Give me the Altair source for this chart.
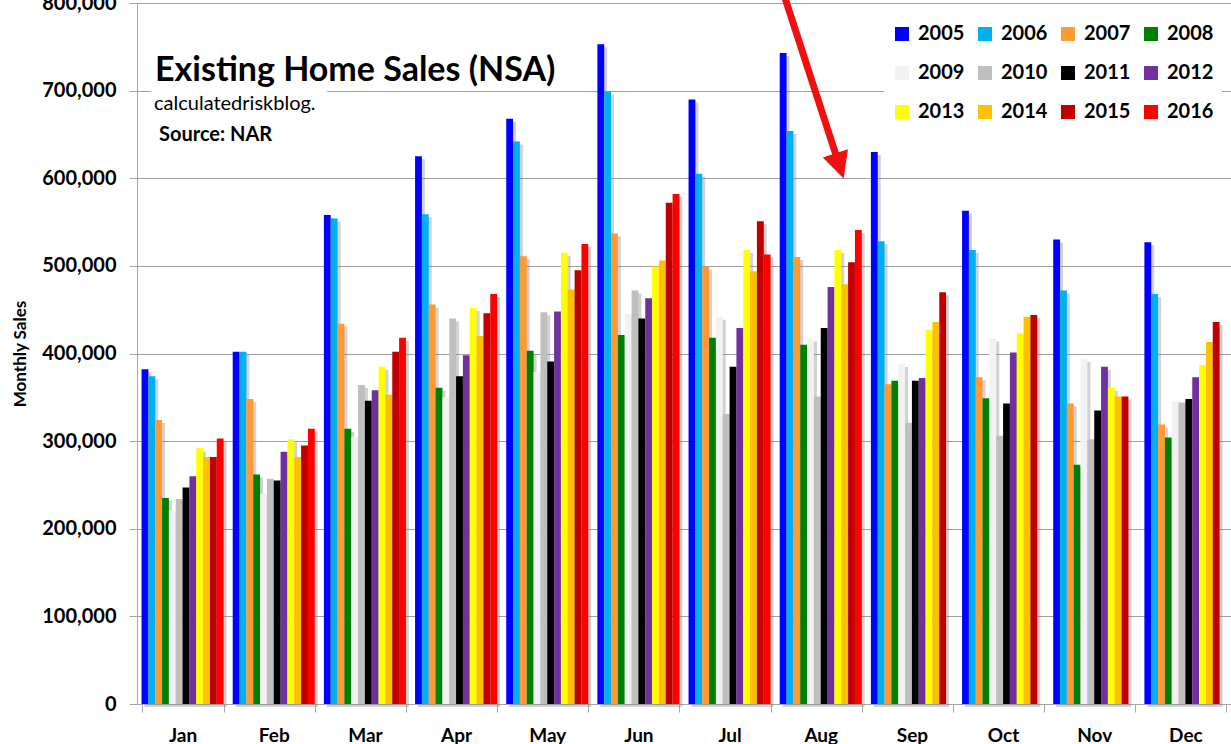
import altair as alt
import pandas as pd

months = ["Jan", "Feb", "Mar", "Apr", "May", "Jun", "Jul", "Aug", "Sep", "Oct", "Nov", "Dec"]
years = ["2005", "2006", "2007", "2008", "2009", "2010", "2011", "2012", "2013", "2014", "2015", "2016"]
colors = ["#0000FF", "#00B0F0", "#FF9933", "#008000", "#F2F2F2", "#BFBFBF",
          "#000000", "#7030A0", "#FFFF00", "#FFC000", "#C00000", "#FF0000"]

# Monthly sales (thousands) per month, years 2005..2016
jan = [382, 374, 324, 235, 221, 234, 247, 260, 292, 282, 282, 303]
feb = [402, 402, 348, 262, 240, 257, 255, 288, 302, 282, 295, 314]
mar = [558, 554, 434, 314, 305, 364, 346, 358, 385, 353, 402, 418]
apr = [625, 559, 456, 361, 350, 440, 374, 398, 452, 420, 446, 468]
may = [668, 642, 511, 403, 379, 447, 391, 448, 515, 473, 495, 525]
jun = [753, 699, 537, 421, 445, 472, 440, 463, 499, 506, 572, 582]
jul = [690, 605, 499, 418, 442, 331, 385, 429, 518, 494, 551, 513]
aug = [743, 654, 510, 410, 417, 351, 429, 476, 518, 479, 504, 541]
sep = [630, 528, 365, 369, 388, 321, 369, 372, 427, 436, 470, None]
oct_ = [563, 518, 373, 349, 417, 306, 343, 401, 423, 442, 444, None]
nov = [530, 472, 343, 273, 394, 302, 335, 385, 361, 351, 351, None]
dec = [527, 468, 319, 304, 346, 344, 348, 373, 387, 413, 436, None]

series = [jan, feb, mar, apr, may, jun, jul, aug, sep, oct_, nov, dec]
rows = []
for m, vals in zip(months, series):
    for y, v in zip(years, vals):
        if v is not None:
            rows.append({"month": m, "year": y, "sales": v * 1000})
df = pd.DataFrame(rows)

W = 1094
H = 701
FONT = "Lato"
step = W / 12.0
bandw = step * 0.9

xenc = alt.X("month:N", sort=months,
             scale=alt.Scale(paddingInner=0.1, paddingOuter=0.05),
             axis=alt.Axis(title=None, tickBand="extent", tickSize=8, labelAngle=0,
                           labelFont=FONT, labelFontWeight="bold", labelFontSize=19,
                           labelColor="#000000", labelPadding=14, domainColor="#A6A6A6",
                           tickColor="#A6A6A6", grid=False))
yenc = alt.Y("sales:Q", scale=alt.Scale(domain=[0, 800000], nice=False),
             axis=alt.Axis(title="Monthly Sales", values=list(range(0, 800001, 100000)),
                           format=",.0f", labelFont=FONT, labelFontWeight="bold",
                           labelFontSize=20, labelColor="#000000", labelPadding=13,
                           tickSize=8, tickColor="#A6A6A6", domainColor="#A6A6A6",
                           gridColor="#A0A0A0", gridWidth=1,
                           titleFont=FONT, titleFontWeight="bold", titleFontSize=17,
                           titleColor="#000000", titlePadding=12))

shadow = alt.Chart(df).mark_bar(color="#7F7F7F", opacity=0.35, yOffset=3).encode(
    x=xenc, y=yenc,
    xOffset=alt.XOffset("year:N", sort=years, scale=alt.Scale(range=[3, bandw + 3], paddingInner=0, paddingOuter=0)),
)

bars = alt.Chart(df).mark_bar().encode(
    x=xenc, y=yenc,
    xOffset=alt.XOffset("year:N", sort=years, scale=alt.Scale(range=[0, bandw], paddingInner=0, paddingOuter=0)),
    color=alt.Color("year:N", sort=years,
                    scale=alt.Scale(domain=years, range=colors),
                    legend=alt.Legend(orient="none", legendX=747, legendY=13, columns=4,
                                      direction="horizontal", title=None, symbolType="square",
                                      symbolSize=196, symbolStrokeWidth=0, labelFont=FONT,
                                      labelFontWeight="bold", labelFontSize=20, labelColor="#000000",
                                      labelOffset=6, columnPadding=10, rowPadding=19,
                                      fillColor="white", padding=8, gridAlign="all")),
)

one = alt.Data(values=[{"a": 1}])

whitebox = alt.Chart(one).mark_rect(color="white").encode(
    x=alt.value(14), x2=alt.value(190), y=alt.value(82), y2=alt.value(112))

title = alt.Chart(one).mark_text(text="Existing Home Sales (NSA)", align="left", baseline="alphabetic",
                                 font=FONT, fontWeight="bold", fontSize=34, color="#000000").encode(
    x=alt.value(18), y=alt.value(78))
blog = alt.Chart(one).mark_text(text="calculatedriskblog.", align="left", baseline="middle",
                                font=FONT, fontSize=20, color="#000000").encode(
    x=alt.value(17), y=alt.value(101))
source = alt.Chart(one).mark_text(text="Source: NAR", align="left", baseline="middle",
                                  font=FONT, fontWeight="bold", fontSize=20, color="#000000").encode(
    x=alt.value(22), y=alt.value(132))

shaft = alt.Chart(one).mark_rule(color="#F01010", strokeWidth=7).encode(
    x=alt.value(648), y=alt.value(-5), x2=alt.value(699), y2=alt.value(152))
head = alt.Chart(one).mark_point(shape="M -1 -1 L 1 -1 L 0 1 Z", filled=True, color="#F01010",
                                 opacity=1, size=700, angle=342, strokeWidth=0).encode(
    x=alt.value(702.5), y=alt.value(163))

chart = alt.layer(shadow, bars, whitebox, title, blog, source, shaft, head).resolve_scale(
    xOffset="independent"
).properties(
    width=W, height=H,
    autosize=alt.AutoSizeParams(type="none"),
    padding={"left": 137, "top": 3, "right": 0, "bottom": 40},
    background="white",
).configure_view(stroke=None)

chart.save("out.html", embed_options={"renderer": "svg", "actions": False})
